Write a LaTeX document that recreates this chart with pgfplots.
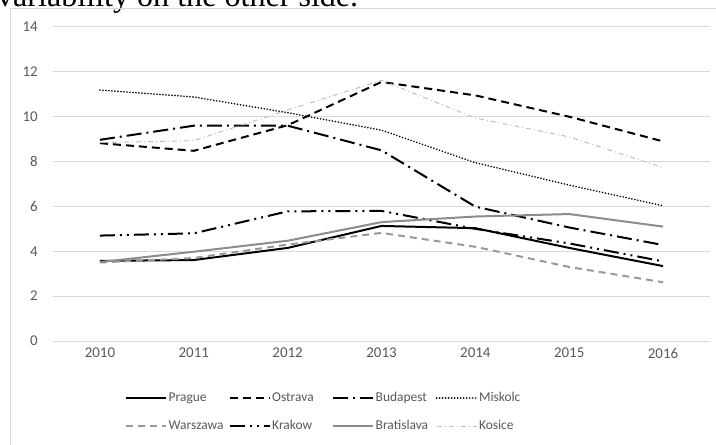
\documentclass[border=0pt]{standalone}
\usepackage{pgfplots}
\pgfplotsset{compat=1.18}
\usepackage{fontspec}
\setmainfont{Carlito}
\newfontfamily\bodyserif{Liberation Serif}

\definecolor{txtgray}{HTML}{595959}
\definecolor{gridgray}{HTML}{D9D9D9}
\definecolor{warsgray}{HTML}{999999}
\definecolor{bratgray}{HTML}{8C8C8C}
\definecolor{kosgray}{HTML}{BFBFBF}

\newcommand{\entry}[1]{\makebox[58.5bp][l]{#1}}

\begin{document}
\begin{tikzpicture}
\path[use as bounding box] (0,0) rectangle (716bp,445bp);
\clip (0,0) rectangle (716bp,445bp);
\fill[white] (0,0) rectangle (716bp,445bp);

% last line of the paragraph above the figure
\node[anchor=base west, inner sep=0pt]
  at (-3bp,438.5bp) {\resizebox{361bp}{!}{\bodyserif variability on the other side.}};

% chart area frame
\draw[gridgray, line width=1bp] (10.5bp,-5bp) -- (10.5bp,436.5bp) -- (730bp,436.5bp);

\begin{axis}[
  at={(53bp,104bp)}, anchor=south west,
  scale only axis, width=657bp, height=314bp,
  xmin=-0.5, xmax=6.5, ymin=0, ymax=14,
  xtick={0,1,2,3,4,5,6},
  xticklabels={2010,2011,2012,2013,2014,2015,2016},
  ytick={0,2,4,6,8,10,12,14},
  ymajorgrids, grid style={gridgray, line width=1bp},
  axis line style={draw=none}, tick style={draw=none}, major tick length=0pt,
  /pgf/number format/assume math mode=true,
  tick label style={font=\fontsize{15}{17}\selectfont, text=txtgray},
  xticklabel style={inner sep=0pt, anchor=north, yshift=-7bp},
  yticklabel style={inner sep=0pt, anchor=east, xshift=-15bp},
  clip=false, no markers,
  every axis plot/.append style={line join=round},
  legend columns=4,
  legend image code/.code={\draw[#1] (0bp,0bp) -- (40bp,0bp);},
  legend style={
    at={(0.1096,-0.1545)}, anchor=north west,
    draw=none, fill=none, inner sep=0pt,
    font=\fontsize{13.5}{16}\selectfont, text=txtgray,
    nodes={inner xsep=1.5bp, inner ysep=2bp, text height=10bp, text depth=3bp},
    /tikz/column sep=0bp, /tikz/row sep=11bp,
  },
  legend cell align=left,
]

\addplot[black, line width=2bp] coordinates {
  (0,3.57) (1,3.61) (2,4.15) (3,5.13) (4,5.03) (5,4.15) (6,3.34)};
\addlegendentry{\entry{Prague}}

\addplot[black, line width=2bp, dash pattern=on 8bp off 5bp] coordinates {
  (0,8.82) (1,8.48) (2,9.62) (3,11.55) (4,10.95) (5,10.0) (6,8.9)};
\addlegendentry{\entry{Ostrava}}

\addplot[black, line width=2bp, dash pattern=on 15bp off 5bp on 2bp off 5bp] coordinates {
  (0,8.97) (1,9.6) (2,9.6) (3,8.5) (4,5.99) (5,5.06) (6,4.28)};
\addlegendentry{\entry{Budapest}}

\addplot[black, line width=1.8bp, line cap=round, dash pattern=on 0.01bp off 3bp] coordinates {
  (0,11.19) (1,10.88) (2,10.18) (3,9.4) (4,7.95) (5,6.95) (6,6.03)};
\addlegendentry{\entry{Miskolc}}

\addplot[warsgray, line width=2bp, dash pattern=on 7bp off 5bp] coordinates {
  (0,3.5) (1,3.7) (2,4.3) (3,4.82) (4,4.2) (5,3.3) (6,2.62)};
\addlegendentry{\entry{Warszawa}}

\addplot[black, line width=2bp, dash pattern=on 15bp off 5bp on 2bp off 5bp on 2bp off 5bp] coordinates {
  (0,4.7) (1,4.8) (2,5.78) (3,5.8) (4,5.0) (5,4.35) (6,3.55)};
\addlegendentry{\entry{Krakow}}

\addplot[bratgray, line width=2bp] coordinates {
  (0,3.52) (1,3.98) (2,4.47) (3,5.3) (4,5.55) (5,5.66) (6,5.1)};
\addlegendentry{\entry{Bratislava}}

\addplot[kosgray, line width=1bp, dash pattern=on 5bp off 3bp on 1bp off 3bp] coordinates {
  (0,8.85) (1,8.93) (2,10.3) (3,11.62) (4,9.94) (5,9.1) (6,7.73)};
\addlegendentry{\entry{Kosice}}

\end{axis}
\end{tikzpicture}
\end{document}
